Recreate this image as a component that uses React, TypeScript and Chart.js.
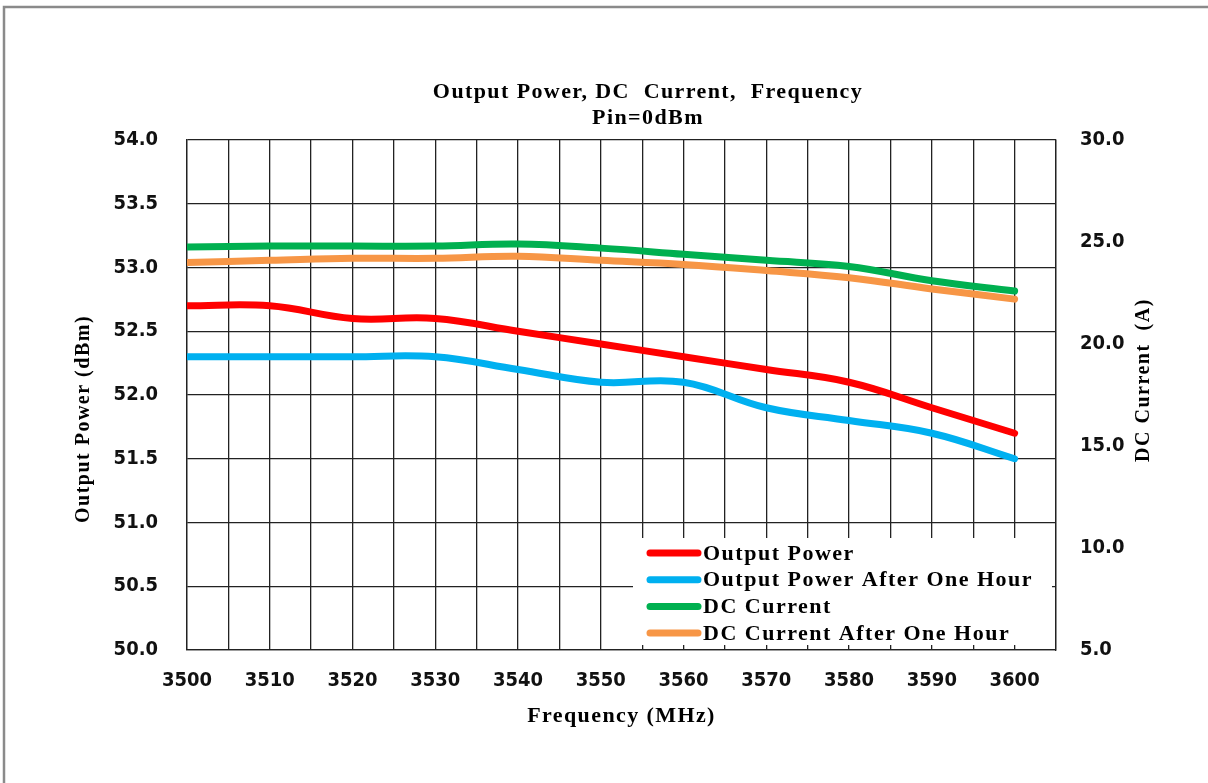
import React, { useEffect, useRef } from "react";
import { Chart, registerables } from "chart.js";

Chart.register(...registerables);

const freqs = [3500, 3510, 3520, 3530, 3540, 3550, 3560, 3570, 3580, 3590, 3600];
const outputPower = [52.7, 52.7, 52.6, 52.6, 52.5, 52.4, 52.3, 52.2, 52.1, 51.9, 51.7];
const outputPowerHour = [52.3, 52.3, 52.3, 52.3, 52.2, 52.1, 52.1, 51.9, 51.8, 51.7, 51.5];
const dcCurrent = [24.75, 24.8, 24.8, 24.8, 24.9, 24.7, 24.4, 24.1, 23.8, 23.1, 22.6];
const dcCurrentHour = [24.0, 24.1, 24.2, 24.2, 24.3, 24.1, 23.9, 23.6, 23.25, 22.7, 22.2];

const seriesLabels = [
  "Output Power",
  "Output Power After One Hour",
  "DC Current",
  "DC Current After One Hour",
];
const seriesColors = ["#FF0000", "#00B0F0", "#00B050", "#F79646"];

const titleLines = ["Output Power, DC  Current,  Frequency", "Pin=0dBm"];
const xTitle = "Frequency (MHz)";
const yTitle = "Output Power (dBm)";
const y1Title = "DC Current  (A)";

const SERIF = '"Liberation Serif", "Times New Roman", serif';
const TICKFONT = '"DejaVu Sans Condensed", "DejaVu Sans", sans-serif';

const decorPlugin = {
  id: "decor",
  beforeDraw(chart: any) {
    const ctx = chart.ctx;
    ctx.save();
    ctx.fillStyle = "#ffffff";
    ctx.fillRect(0, 0, chart.width, chart.height);
    ctx.strokeStyle = "#8a8a8a";
    ctx.lineWidth = 2.5;
    ctx.beginPath();
    ctx.moveTo(chart.width, 7);
    ctx.lineTo(4, 7);
    ctx.lineTo(4, chart.height);
    ctx.stroke();
    ctx.restore();
  },
  afterDraw(chart: any) {
    const ctx = chart.ctx;
    const ca = chart.chartArea;
    ctx.save();
    ctx.fillStyle = "#000";
    ctx.textAlign = "center";
    ctx.textBaseline = "middle";
    ctx.font = `bold 22px ${SERIF}`;
    (ctx as any).letterSpacing = "1.4px";
    ctx.fillText(titleLines[0], 648, 92);
    ctx.fillText(titleLines[1], 648, 118);
    ctx.fillText(xTitle, (ca.left + ca.right) / 2, 716);

    ctx.font = `bold 20px ${SERIF}`;
    (ctx as any).letterSpacing = "1.5px";
    ctx.save();
    ctx.translate(84, 419);
    ctx.rotate(-Math.PI / 2);
    ctx.fillText(yTitle, 0, 0);
    ctx.restore();
    ctx.save();
    ctx.translate(1144, 380);
    ctx.rotate(-Math.PI / 2);
    ctx.fillText(y1Title, 0, 0);
    ctx.restore();

    // legend inside plot area
    const bx = 633, by = 538, bw = 419, bh = 107;
    ctx.fillStyle = "#ffffff";
    ctx.fillRect(bx, by, bw, bh);
    ctx.font = `bold 22px ${SERIF}`;
    (ctx as any).letterSpacing = "1.5px";
    ctx.textAlign = "left";
    const ds = chart.data.datasets;
    for (let i = 0; i < ds.length; i++) {
      const yy = 553 + i * 26.7;
      ctx.strokeStyle = ds[i].borderColor;
      ctx.lineWidth = 7;
      ctx.lineCap = "round";
      ctx.beginPath();
      ctx.moveTo(650, yy);
      ctx.lineTo(698, yy);
      ctx.stroke();
      ctx.fillStyle = "#000";
      ctx.fillText(ds[i].label, 703, yy + 1);
    }
    ctx.restore();
  },
};

export default function App() {
  const ref = useRef<HTMLCanvasElement | null>(null);

  useEffect(() => {
    if (!ref.current) return;
    const mk = (vals: number[]) => freqs.map((f, i) => ({ x: f, y: vals[i] }));
    const series = [outputPower, outputPowerHour, dcCurrent, dcCurrentHour];
    const axes = ["y", "y", "y1", "y1"];
    const gridColor = "#222222";
    const tickFont = { family: TICKFONT, size: 20, weight: "bold" as const };

    const chart = new Chart(ref.current, {
      type: "line",
      data: {
        datasets: series.map((vals, i) => ({
          label: seriesLabels[i],
          data: mk(vals),
          borderColor: seriesColors[i],
          backgroundColor: seriesColors[i],
          borderWidth: 7,
          pointRadius: 0,
          tension: 0.4,
          fill: false,
          yAxisID: axes[i],
          borderCapStyle: "round" as const,
        })),
      },
      options: {
        responsive: false,
        animation: false,
        layout: { padding: { top: 140, left: 0, right: 0, bottom: 0 } },
        plugins: {
          legend: { display: false },
          tooltip: { enabled: false },
          title: { display: false },
        },
        scales: {
          x: {
            type: "linear",
            min: 3500,
            max: 3605,
            afterFit: (s: any) => {
              s.height = 133;
            },
            ticks: {
              stepSize: 5,
              autoSkip: false,
              maxRotation: 0,
              padding: 19,
              color: "#111",
              font: tickFont,
              callback: (v: any) => (Number(v) % 10 === 0 && Number(v) <= 3600 ? String(v) : ""),
            },
            grid: { color: gridColor, lineWidth: 1.3, drawTicks: false },
            border: { color: gridColor, width: 1.3 },
          },
          y: {
            type: "linear",
            position: "left",
            min: 50,
            max: 54,
            afterFit: (s: any) => {
              s.width = 187;
            },
            ticks: {
              stepSize: 0.5,
              padding: 29,
              color: "#111",
              font: tickFont,
              callback: (v: any) => Number(v).toFixed(1),
            },
            grid: { color: gridColor, lineWidth: 1.3, drawTicks: false },
            border: { color: gridColor, width: 1.3 },
          },
          y1: {
            type: "linear",
            position: "right",
            min: 5,
            max: 30,
            afterFit: (s: any) => {
              s.width = 152;
            },
            ticks: {
              stepSize: 5,
              padding: 24,
              color: "#111",
              font: tickFont,
              callback: (v: any) => Number(v).toFixed(1),
            },
            grid: { drawOnChartArea: false, drawTicks: false },
            border: { color: gridColor, width: 1.3 },
          },
        },
      },
      plugins: [decorPlugin],
    });
    return () => chart.destroy();
  }, []);

  return (
    <div style={{ position: "absolute", left: 0, top: 0, width: 1208, height: 783, background: "#fff" }}>
      <canvas ref={ref} width={1208} height={783} style={{ width: 1208, height: 783, display: "block" }} />
    </div>
  );
}
